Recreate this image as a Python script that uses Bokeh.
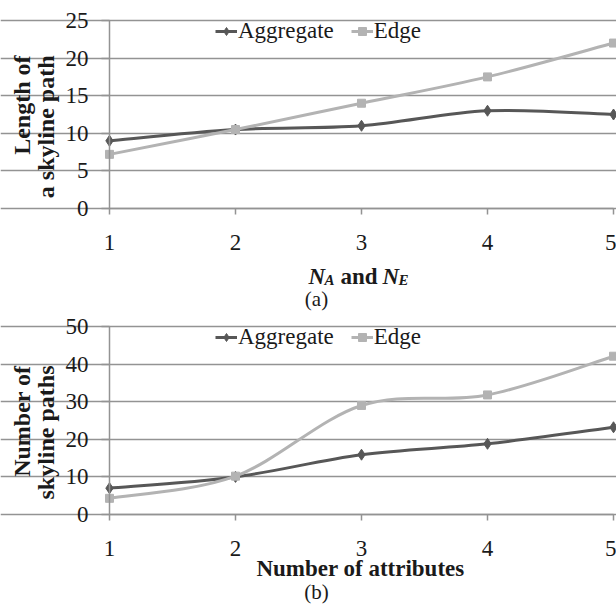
import math
from bokeh.plotting import figure
from bokeh.models import Range1d, Label, Legend, LegendItem, FixedTicker
from bokeh.layouts import column
from bokeh.embed import file_html
from bokeh.resources import INLINE

# ---------------- data ----------------
categories = [1, 2, 3, 4, 5]
len_aggregate = [9.0, 10.5, 11.0, 13.0, 12.5]
len_edge = [7.2, 10.5, 14.0, 17.5, 22.0]
num_aggregate = [7.0, 10.0, 15.9, 18.8, 23.2]
num_edge = [4.3, 10.2, 29.0, 31.8, 42.1]
len_yticks = [0, 5, 10, 15, 20, 25]
num_yticks = [0, 10, 20, 30, 40, 50]

SERIF = "Liberation Serif"
DARK = "#575757"
LIGHT = "#b3b3b3"
GRID = "#939393"
W = 616
LEFT = 109          # pixel of x = 1
PX_PER_CAT = 126    # pixels per category step
FRAME_H = 188       # pixels from 0 to the top tick


def smooth_segments(xs, ys):
    """Excel-like smoothed line: cubic Bezier control points from neighbours."""
    n = len(xs)
    seg = dict(x0=[], y0=[], x1=[], y1=[], cx0=[], cy0=[], cx1=[], cy1=[])
    for i in range(n - 1):
        pm = max(i - 1, 0)
        pp = min(i + 2, n - 1)
        seg["x0"].append(xs[i]); seg["y0"].append(ys[i])
        seg["x1"].append(xs[i + 1]); seg["y1"].append(ys[i + 1])
        seg["cx0"].append(xs[i] + (xs[i + 1] - xs[pm]) / 6.0)
        seg["cy0"].append(ys[i] + (ys[i + 1] - ys[pm]) / 6.0)
        seg["cx1"].append(xs[i + 1] - (xs[pp] - xs[i]) / 6.0)
        seg["cy1"].append(ys[i + 1] - (ys[pp] - ys[i]) / 6.0)
    return seg


def make_panel(agg, edge, yticks, ymax, height, top, label_lines, label_xs, label_top,
               xlabel_parts, caption, caption_y):
    # pixel (canvas local, from top-left) -> data
    def xd(px):
        return 1 + (px - LEFT) / PX_PER_CAT

    def yd(py):
        return (top + FRAME_H - py) * ymax / FRAME_H

    p = figure(width=W, height=height, output_backend="svg", toolbar_location=None,
               x_range=Range1d(xd(0), xd(W)), y_range=Range1d(yd(height), yd(0)),
               min_border=0, min_border_left=0, min_border_right=0,
               min_border_top=0, min_border_bottom=0)
    p.outline_line_color = None
    p.background_fill_color = "white"
    p.border_fill_color = "white"

    # axes drawn at fixed data positions
    p.xaxis.fixed_location = 0
    p.yaxis.fixed_location = 1
    p.xaxis.bounds = (1, 5)
    p.yaxis.bounds = (0, ymax)
    p.xaxis.ticker = FixedTicker(ticks=categories)
    p.yaxis.ticker = FixedTicker(ticks=yticks)
    for ax in (p.xaxis[0], p.yaxis[0]):
        ax.axis_line_color = GRID
        ax.axis_line_width = 1.5
        ax.major_tick_line_color = GRID
        ax.major_tick_line_width = 1.5
        ax.major_tick_in = 0
        ax.minor_tick_line_color = None
        ax.major_label_text_font = SERIF
        ax.major_label_text_font_size = "23px"
        ax.major_label_text_color = "#1a1a1a"
    p.xaxis.major_tick_out = 6
    p.xaxis.major_label_standoff = 20
    p.yaxis.major_tick_out = 8
    p.yaxis.major_label_standoff = 13

    p.xgrid.visible = False
    p.ygrid.ticker = FixedTicker(ticks=yticks)
    p.ygrid.bounds = (1, 5)
    p.ygrid.grid_line_color = GRID
    p.ygrid.grid_line_width = 1.5

    # smoothed lines + markers
    sa = smooth_segments(categories, agg)
    se = smooth_segments(categories, edge)
    ra = p.bezier(source=sa, x0="x0", y0="y0", x1="x1", y1="y1", cx0="cx0", cy0="cy0",
                  cx1="cx1", cy1="cy1", line_color=DARK, line_width=3)
    re = p.bezier(source=se, x0="x0", y0="y0", x1="x1", y1="y1", cx0="cx0", cy0="cy0",
                  cx1="cx1", cy1="cy1", line_color=LIGHT, line_width=3)
    ma = p.scatter(categories, agg, marker="diamond", size=11, fill_color=DARK,
                   line_color=DARK)
    me = p.scatter(categories, edge, marker="square", size=8, fill_color=LIGHT,
                   line_color=LIGHT)

    legend = Legend(items=[LegendItem(label="Aggregate", renderers=[ra, ma]),
                           LegendItem(label="Edge", renderers=[re, me])],
                    orientation="horizontal", location=(215, height - top - 24),
                    background_fill_alpha=0, border_line_color=None,
                    padding=0, margin=0, spacing=17, glyph_width=22, glyph_height=20,
                    label_standoff=1, label_text_font=SERIF, label_text_font_size="23px",
                    label_text_color="#1a1a1a", label_height=20)
    p.add_layout(legend, "center")

    # rotated two-line y label, both lines ending at the same top point
    for txt, cx in zip(label_lines, label_xs):
        p.add_layout(Label(x=xd(cx), y=yd(label_top), text=txt, angle=math.pi / 2,
                           text_align="right", text_baseline="middle",
                           text_font=SERIF, text_font_size="24px",
                           text_font_style="bold", text_color="#1a1a1a"))

    # x label pieces
    for txt, px, py, size, style, align in xlabel_parts:
        p.add_layout(Label(x=xd(px), y=yd(py), text=txt, text_align=align,
                           text_baseline="alphabetic", text_font=SERIF,
                           text_font_size=size, text_font_style=style,
                           text_color="#1a1a1a"))

    p.add_layout(Label(x=xd(316), y=yd(caption_y), text=caption, text_align="center",
                       text_baseline="middle", text_font=SERIF, text_font_size="21px",
                       text_color="#1a1a1a"))
    return p


top_xlabel = [
    ("N", 308, 276, "23px", "bold italic", "left"),
    ("A", 324, 279, "15px", "bold italic", "left"),
    ("and", 340, 276, "23px", "bold", "left"),
    ("N", 382, 276, "23px", "bold italic", "left"),
    ("E", 398, 279, "15px", "bold italic", "left"),
]
TOP_H, TOP_T = 312, 20
BOT_H = 609 - TOP_H
BOT_T = 326 - TOP_H
bottom_xlabel = [
    ("Number of attributes", 360, 568 - TOP_H, "23px", "bold", "center"),
]

p1 = make_panel(len_aggregate, len_edge, len_yticks, 25, TOP_H, TOP_T,
                ["Length of", "a skyline path"], [21, 45], 55,
                top_xlabel, "(a)", 298)
p2 = make_panel(num_aggregate, num_edge, num_yticks, 50, BOT_H, BOT_T,
                ["Number of", "skyline paths"], [21, 45], 365 - TOP_H,
                bottom_xlabel, "(b)", 591 - TOP_H)

layout = column(p1, p2, spacing=0)
open("out.html", "w").write(file_html(layout, INLINE))
